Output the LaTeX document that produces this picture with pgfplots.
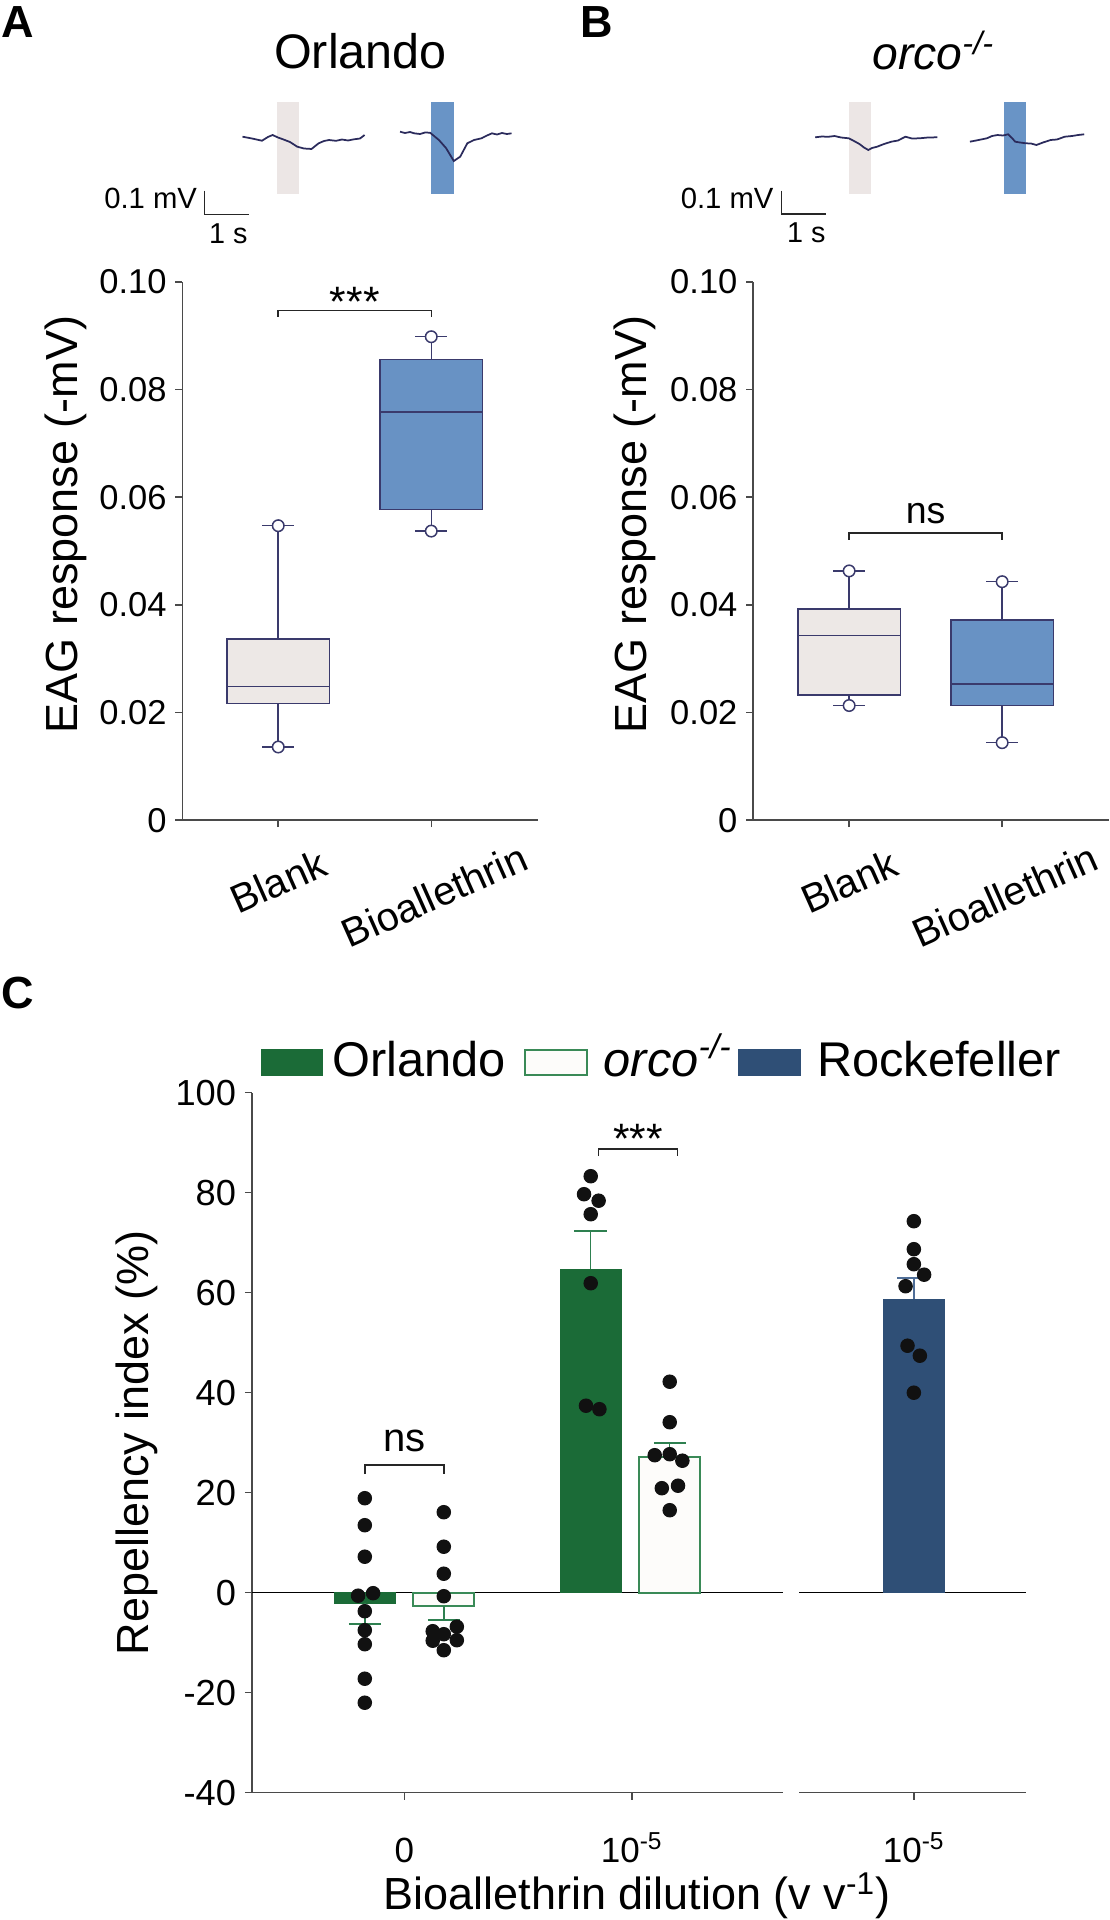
\documentclass[border=0pt]{standalone}
\usepackage{pgfplots}
\pgfplotsset{compat=1.18}
\usepackage{fontspec}
\setmainfont{Liberation Sans}
\setsansfont{Liberation Sans}

\definecolor{axgray}{HTML}{4A4A4A}
\definecolor{boxc}{HTML}{3A3A6C}
\definecolor{gfill}{HTML}{EDE8E6}
\definecolor{bfill}{HTML}{6892C4}
\definecolor{stgray}{HTML}{ECE6E5}
\definecolor{stblue}{HTML}{6994C6}
\definecolor{tracec}{HTML}{2B2B5C}
\definecolor{orl}{HTML}{1B6B37}
\definecolor{orlerr}{HTML}{2E8050}
\definecolor{orcoedge}{HTML}{3A8A57}
\definecolor{orcofill}{HTML}{FDFCFA}
\definecolor{rock}{HTML}{2F4F76}
\definecolor{rockerr}{HTML}{4F6E98}
\definecolor{dotc}{HTML}{111111}

\newcommand{\fs}[1]{\fontsize{#1pt}{#1pt}\selectfont}

\pgfplotsset{
  eagaxis/.style={
    anchor=south west, scale only axis, width=142.3pt, height=215.36pt,
    xmin=0.373, xmax=2.698, ymin=0, ymax=0.1,
    axis lines*=left,
    axis line style={draw=axgray, line width=0.6pt},
    tick align=outside, major tick length=2.8pt,
    tick style={draw=axgray, line width=0.6pt},
    ytick={0,0.02,0.04,0.06,0.08,0.1},
    yticklabels={0,0.02,0.04,0.06,0.08,0.10},
    yticklabel style={font=\fs{13.8}},
    xtick={1}, xticklabels={\rotatebox{24}{Blank}},
    xticklabel style={font=\fs{16}, anchor=center, yshift=-21.6pt},
    extra x ticks={2}, extra x tick labels={\rotatebox{24}{Bioallethrin}},
    extra x tick style={xticklabel style={yshift=-5.6pt, xshift=1.2pt}},
    ylabel={EAG response (-mV)},
    clip=false,
  },
  traceaxis/.style={
    anchor=south west, scale only axis, width=132pt, height=51.92pt,
    xmin=-1, xmax=6.5, ymin=-0.35, ymax=0.2, hide axis, clip=false,
  },
  caxis/.style={
    anchor=south west, scale only axis, height=280pt,
    ymin=-40, ymax=100,
    axis line style={draw=axgray, line width=0.6pt},
    tick align=outside, major tick length=2.8pt,
    tick style={draw=axgray, line width=0.6pt},
    xticklabel style={font=\fs{14}, anchor=base, yshift=-25.3pt},
    clip=false,
  },
  dots/.style={only marks, mark=*, mark size=2.7pt, mark options={fill=dotc, draw=dotc}},
  bx/.style={draw=boxc, line width=0.6pt},
  endpt/.style={only marks, mark=*, mark size=2.3pt, mark options={fill=white, draw=boxc, line width=0.6pt}},
}

\begin{document}
\begin{tikzpicture}
\useasboundingbox (0pt,0pt) rectangle (444pt,-768pt);

% ---------------- Panel A traces
\begin{axis}[traceaxis, at={(79.4pt,-87.72pt)}]
\addplot[fill=stgray, draw=none] coordinates {(0.78,-0.244) (1.295,-0.244) (1.295,0.147) (0.78,0.147)} -- cycle;
\addplot[fill=stblue, draw=none] coordinates {(4.295,-0.244) (4.811,-0.244) (4.811,0.147) (4.295,0.147)} -- cycle;
\addplot[tracec, line width=0.7pt] coordinates {
(0,0) (0.216,-0.0076) (0.443,-0.017) (0.58,-0.001) (0.684,0.0072) (0.807,-0.0034)
(0.92,-0.011) (1.08,-0.0225) (1.245,-0.0424) (1.398,-0.05) (1.568,-0.052) (1.73,-0.028)
(1.852,-0.0182) (1.966,-0.014) (2.125,-0.0174) (2.261,-0.0119) (2.398,-0.016)
(2.534,-0.011) (2.67,-0.0076) (2.775,0.0072)};
\addplot[tracec, line width=0.7pt] coordinates {
(3.58,0.0212) (3.693,0.0157) (3.807,0.0199) (3.902,0.0144) (4.034,0.0114) (4.148,0.0178)
(4.264,0.0169) (4.464,-0.014) (4.625,-0.0479) (4.802,-0.103) (4.948,-0.0847) (5.109,-0.028)
(5.261,-0.014) (5.43,-0.0068) (5.557,0.0051) (5.67,0.0144) (5.784,0.0093) (5.898,0.0157)
(6.011,0.0114) (6.114,0.0144)};
\addplot[black!85, line width=0.6pt] coordinates {(-0.861,-0.2288) (-0.861,-0.3288) (0.139,-0.3288)};
\end{axis}

% ---------------- Panel B traces
\begin{axis}[traceaxis, at={(308.48pt,-87.96pt)}]
\addplot[fill=stgray, draw=none] coordinates {(0.764,-0.2415) (1.27,-0.2415) (1.27,0.1496) (0.764,0.1496)} -- cycle;
\addplot[fill=stblue, draw=none] coordinates {(4.286,-0.2415) (4.802,-0.2415) (4.802,0.1496) (4.286,0.1496)} -- cycle;
\addplot[tracec, line width=0.7pt] coordinates {
(0,0) (0.155,0.0034) (0.291,0.0021) (0.441,0.0055) (0.586,-0.0008) (0.764,-0.0042)
(0.882,-0.0157) (1.005,-0.0284) (1.109,-0.0432) (1.207,-0.0538) (1.291,-0.0453)
(1.407,-0.0398) (1.564,-0.0284) (1.73,-0.0186) (1.882,-0.0136) (2.05,0.0025)
(2.2,-0.0051) (2.373,-0.0042) (2.564,-0.0008) (2.775,0)};
\addplot[tracec, line width=0.7pt] coordinates {
(3.516,-0.0186) (3.655,-0.0136) (3.768,-0.0093) (3.902,-0.0042) (4.018,0.0055)
(4.143,0.0097) (4.268,0.0076) (4.384,0.0127) (4.473,-0.003) (4.545,-0.0186)
(4.655,-0.022) (4.786,-0.0254) (4.905,-0.0263) (5.027,-0.0326) (5.177,-0.022)
(5.35,-0.0114) (5.495,-0.0093) (5.67,0.0025) (5.836,0.0055) (5.973,0.0097) (6.114,0.0127)};
\addplot[black!85, line width=0.6pt] coordinates {(-0.766,-0.226) (-0.766,-0.326) (0.234,-0.326)};
\end{axis}

% ---------------- Panel A boxplot
\begin{axis}[eagaxis, at={(72.92pt,-328.08pt)},
  ylabel style={font=\fs{18}, at={(axis description cs:-0.328,0.549)}, anchor=center}]
% Blank: lw 0.0136, q1 0.0217, med 0.0248, q3 0.0337, uw 0.0547
\addplot[bx] coordinates {(1,0.0136) (1,0.0547)};
\addplot[bx, fill=gfill] coordinates {(0.665,0.0217) (1.335,0.0217) (1.335,0.0337) (0.665,0.0337)} -- cycle;
\addplot[bx] coordinates {(0.665,0.0248) (1.335,0.0248)};
\addplot[bx] coordinates {(0.895,0.0136) (1.105,0.0136)};
\addplot[bx] coordinates {(0.895,0.0547) (1.105,0.0547)};
% Bioallethrin: lw 0.0537, q1 0.0577, med 0.0758, q3 0.0856, uw 0.0898
\addplot[bx] coordinates {(2,0.0537) (2,0.0898)};
\addplot[bx, fill=bfill] coordinates {(1.665,0.0577) (2.335,0.0577) (2.335,0.0856) (1.665,0.0856)} -- cycle;
\addplot[bx] coordinates {(1.665,0.0758) (2.335,0.0758)};
\addplot[bx] coordinates {(1.895,0.0537) (2.105,0.0537)};
\addplot[bx] coordinates {(1.895,0.0898) (2.105,0.0898)};
\addplot[endpt] coordinates {(1,0.0136) (1,0.0547) (2,0.0537) (2,0.0898)};
\draw[black!85, line width=0.6pt] (axis cs:1,0.0935) -- (axis cs:1,0.0947) -- (axis cs:2,0.0947) -- (axis cs:2,0.0935);
\node[font=\fs{17}, anchor=base] at (axis cs:1.5,0.0935) {***};
\end{axis}

% ---------------- Panel B boxplot
\begin{axis}[eagaxis, at={(301.28pt,-328.08pt)},
  ylabel style={font=\fs{18}, at={(axis description cs:-0.333,0.549)}, anchor=center}]
% Blank: lw 0.0213, q1 0.0233, med 0.0343, q3 0.0392, uw 0.0463
\addplot[bx] coordinates {(1,0.0213) (1,0.0463)};
\addplot[bx, fill=gfill] coordinates {(0.665,0.0233) (1.335,0.0233) (1.335,0.0392) (0.665,0.0392)} -- cycle;
\addplot[bx] coordinates {(0.665,0.0343) (1.335,0.0343)};
\addplot[bx] coordinates {(0.895,0.0213) (1.105,0.0213)};
\addplot[bx] coordinates {(0.895,0.0463) (1.105,0.0463)};
% Bioallethrin: lw 0.0144, q1 0.0213, med 0.0253, q3 0.0372, uw 0.0443
\addplot[bx] coordinates {(2,0.0144) (2,0.0443)};
\addplot[bx, fill=bfill] coordinates {(1.665,0.0213) (2.335,0.0213) (2.335,0.0372) (1.665,0.0372)} -- cycle;
\addplot[bx] coordinates {(1.665,0.0253) (2.335,0.0253)};
\addplot[bx] coordinates {(1.895,0.0144) (2.105,0.0144)};
\addplot[bx] coordinates {(1.895,0.0443) (2.105,0.0443)};
\addplot[endpt] coordinates {(1,0.0213) (1,0.0463) (2,0.0144) (2,0.0443)};
\draw[black!85, line width=0.6pt] (axis cs:1,0.0521) -- (axis cs:1,0.0533) -- (axis cs:2,0.0533) -- (axis cs:2,0.0521);
\node[font=\fs{15}, anchor=base] at (axis cs:1.5,0.0551) {ns};
\end{axis}

% ---------------- Panel C left
\begin{axis}[caxis, at={(100.73pt,-717.08pt)}, width=212.35pt,
  xmin=-0.43, xmax=6.29, axis lines*=left,
  ytick={-40,-20,0,20,40,60,80,100},
  yticklabels={-40,-20,0,20,40,60,80,100},
  yticklabel style={font=\fs{14.5}},
  xtick={1.5,4.38}, xticklabels={0,10\textsuperscript{-5}},
  ylabel={Repellency index (\%)},
  ylabel style={font=\fs{18}, at={(axis description cs:-0.216,0.5)}, anchor=center}]
\addplot[black, line width=0.6pt] coordinates {(-0.43,0) (6.29,0)};
\addplot[ybar, bar width=0.77, bar shift=0pt, fill=orl, draw=orl] coordinates {(1,-2.1) (3.86,64.7)};
\addplot[ybar, bar width=0.77, bar shift=0pt, fill=orcofill, draw=orcoedge, line width=0.8pt] coordinates {(2,-2.7) (4.86,27.2)};
% error bars
\addplot[orlerr, line width=0.6pt] coordinates {(1,-2.1) (1,-6.3)};
\addplot[orlerr, line width=0.6pt] coordinates {(0.8,-6.3) (1.2,-6.3)};
\addplot[orlerr, line width=0.6pt] coordinates {(2,-2.7) (2,-5.5)};
\addplot[orlerr, line width=0.6pt] coordinates {(1.8,-5.5) (2.2,-5.5)};
\addplot[orlerr, line width=0.6pt] coordinates {(3.86,64.7) (3.86,72.3)};
\addplot[orlerr, line width=0.6pt] coordinates {(3.653,72.3) (4.067,72.3)};
\addplot[orlerr, line width=0.6pt] coordinates {(4.86,27.2) (4.86,29.9)};
\addplot[orlerr, line width=0.6pt] coordinates {(4.66,29.9) (5.06,29.9)};
% individual points
\addplot[dots] coordinates {(1,18.9) (1,13.5) (1,7.2) (0.915,-0.6) (1.105,-0.1) (1,-3.7) (1,-7.5) (1,-10.3) (1,-17.2) (1,-22)};
\addplot[dots] coordinates {(2,16.1) (2,9.2) (2,3.8) (2,-0.7) (2.165,-6.8) (1.86,-7.7) (2,-8.3) (1.86,-9.6) (2.165,-9.5) (2,-11.5)};
\addplot[dots] coordinates {(3.86,83.3) (3.775,79.7) (3.96,78.4) (3.86,75.7) (3.86,61.9) (3.80,37.4) (3.97,36.7)};
\addplot[dots] coordinates {(4.86,42.2) (4.86,34.1) (4.67,27.5) (4.86,27.7) (5.02,26.4) (4.76,20.9) (4.965,21.4) (4.86,16.5)};
% significance
\draw[black!85, line width=0.6pt] (axis cs:1,23.7) -- (axis cs:1,25.5) -- (axis cs:2,25.5) -- (axis cs:2,23.7);
\node[font=\fs{16}, anchor=base] at (axis cs:1.5,28.2) {ns};
\draw[black!85, line width=0.6pt] (axis cs:3.96,87.3) -- (axis cs:3.96,88.7) -- (axis cs:4.96,88.7) -- (axis cs:4.96,87.3);
\node[font=\fs{17}, anchor=center] at (axis cs:4.46,90.7) {***};
\end{axis}

% ---------------- Panel C right
\begin{axis}[caxis, at={(319.72pt,-717.08pt)}, width=90.68pt,
  xmin=6.5, xmax=9.37, axis x line*=bottom, axis y line=none,
  ytick=\empty, xtick={7.95}, xticklabels={10\textsuperscript{-5}}]
\addplot[black, line width=0.6pt] coordinates {(6.5,0) (9.37,0)};
\addplot[ybar, bar width=0.77, bar shift=0pt, fill=rock, draw=rock] coordinates {(7.95,58.7)};
\addplot[rockerr, line width=0.6pt] coordinates {(7.95,58.7) (7.95,62.9)};
\addplot[rockerr, line width=0.6pt] coordinates {(7.74,62.9) (8.16,62.9)};
\addplot[dots] coordinates {(7.95,74.3) (7.95,68.7) (7.95,65.7) (8.08,63.6) (7.845,61.3) (7.87,49.4) (8.026,47.4) (7.95,40.0)};
\end{axis}

% ---------------- Text annotations (pixel grid, y downwards)
\begin{scope}[x=0.4pt, y=-0.4pt]
\node[font=\bfseries\fs{18}] at (17.7,21.7) {A};
\node[font=\bfseries\fs{18}] at (596.6,22.5) {B};
\node[font=\bfseries\fs{18}] at (18,993) {C};
\node[font=\fs{19.4}, anchor=base] at (360.5,68.3) {Orlando};
\node[font=\fs{18.5}, anchor=base west, inner sep=0pt] at (872,70) {\itshape orco\textsuperscript{-/-}};
\node[font=\fs{11.7}, anchor=base east, inner sep=1pt] at (200,208.3) {0.1 mV};
\node[font=\fs{11.5}, anchor=base] at (228.3,243.3) {1 s};
\node[font=\fs{11.7}, anchor=base east, inner sep=1pt] at (776.5,208.5) {0.1 mV};
\node[font=\fs{11.5}, anchor=base] at (806.3,243) {1 s};
% legend
\fill[orl] (260.6,1049) rectangle (322.6,1076);
\node[font=\fs{19.5}, anchor=base west, inner sep=0pt] at (332.2,1077) {Orlando};
\filldraw[fill=orcofill, draw=orcoedge, line width=0.8pt] (525,1050) rectangle (587,1075);
\node[font=\fs{19.5}, anchor=base west, inner sep=0pt] at (603.3,1077) {\itshape orco\textsuperscript{-/-}};
\fill[rock] (738.3,1049) rectangle (800.7,1076);
\node[font=\fs{19.5}, anchor=base west, inner sep=0pt] at (816.7,1077) {Rockefeller};
% x label of C
\node[font=\fs{18}, anchor=base] at (637,1910) {Bioallethrin dilution (v v\textsuperscript{-1})};
\end{scope}
\end{tikzpicture}
\end{document}
